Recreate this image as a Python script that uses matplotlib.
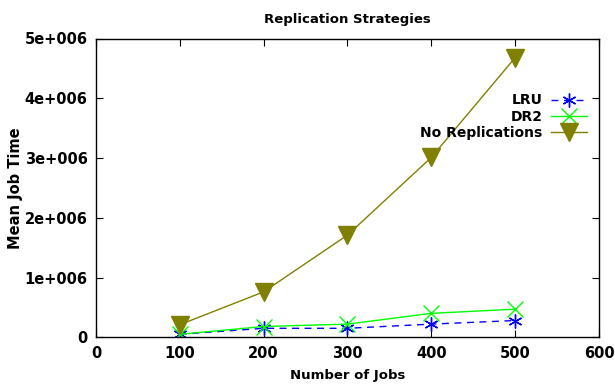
import matplotlib
matplotlib.use("Agg")
import matplotlib.pyplot as plt

jobs = [100, 200, 300, 400, 500]
lru = [50000, 150000, 150000, 220000, 280000]
dr2 = [50000, 180000, 220000, 400000, 470000]
no_repl = [210000, 760000, 1710000, 3010000, 4680000]

x_ticks = [0, 100, 200, 300, 400, 500, 600]
y_ticks = [0, 1e6, 2e6, 3e6, 4e6, 5e6]
y_labels = ["0", "1e+006", "2e+006", "3e+006", "4e+006", "5e+006"]

plt.rcParams['font.family'] = ['DejaVu Sans']
plt.rcParams['font.weight'] = 'bold'

fig = plt.figure(figsize=(6.15, 3.85), dpi=100)
ax = fig.add_axes([0.156, 0.124, 0.818, 0.776])

ax.plot(jobs, lru, color='#0000ff', linestyle=(0, (5, 4)), linewidth=1,
        marker=(6, 2, 0), markersize=10, markeredgewidth=1, label='LRU')
ax.plot(jobs, dr2, color='#00ff00', linewidth=1,
        marker='x', markersize=11, markeredgewidth=1, label='DR2')
ax.plot(jobs, no_repl, color='#808000', linewidth=1,
        marker='v', markersize=13, label='No Replications')

ax.set_xlim(0, 600)
ax.set_ylim(0, 5e6)
ax.set_xticks(x_ticks)
ax.set_yticks(y_ticks)
ax.set_yticklabels(y_labels)
ax.tick_params(direction='in', top=True, right=True, length=5, labelsize=10.5, pad=6)
for s in ax.spines.values():
    s.set_linewidth(1)

ax.set_title("Replication Strategies", fontsize=9.5, fontweight='bold', pad=11)
ax.set_xlabel("Number of Jobs", fontsize=9.5, fontweight='bold', labelpad=6)
ax.set_ylabel("Mean Job Time", fontsize=10.5, fontweight='bold', labelpad=1)

ax.legend(loc='upper right', bbox_to_anchor=(0.976, 0.816), frameon=False,
          markerfirst=False, fontsize=10, handlelength=2.6, labelspacing=0.15,
          handletextpad=0.6, borderaxespad=0, borderpad=0)

fig.savefig("out.png", dpi=100)
